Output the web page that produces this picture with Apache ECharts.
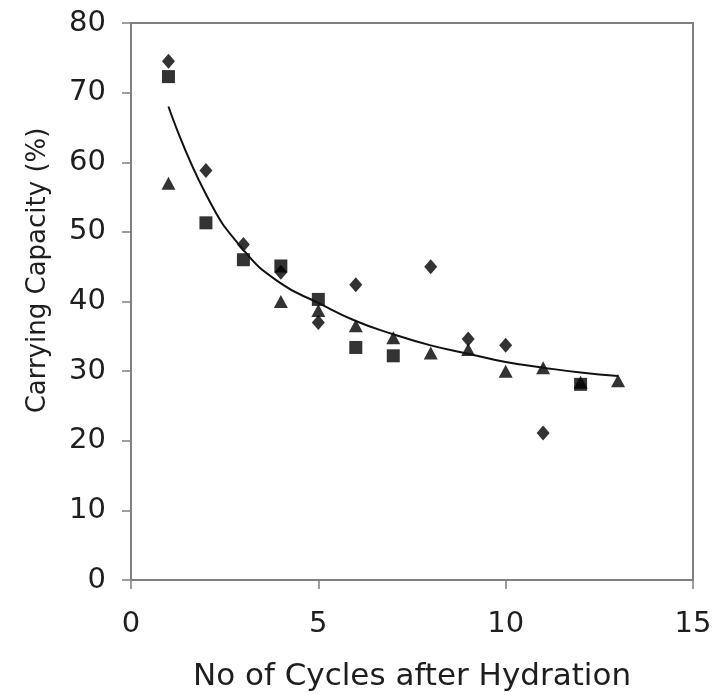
<!DOCTYPE html>
<html>
<head>
<meta charset="utf-8">
<script src="https://cdn.jsdelivr.net/npm/echarts@6/dist/echarts.min.js"></script>
<style>html,body{margin:0;padding:0;background:#fff}#c{width:727px;height:697px}</style>
</head>
<body>
<div id="c"></div>
<script>
var cycles = [1, 2, 3, 4, 5, 6, 7, 8, 9, 10, 11, 12, 13];
var diamondVals = [74.5, 58.8, 48.2, 44.2, 37.0, 42.4, null, 45.0, 34.6, 33.7, 21.1, null, null];
var squareVals = [72.3, 51.3, 46.0, 45.1, 40.3, 33.4, 32.2, null, null, null, null, 28.1, null];
var triangleVals = [57.0, null, null, 40.0, 38.7, 36.5, 34.8, 32.6, 33.1, 30.0, 30.5, 28.4, 28.6];
var trendVals = [68.0, 55.4, 47.4, 42.6, 39.8, 37.2, 35.3, 33.7, 32.5, 31.3, 30.5, 29.8, 29.3];
var xTicks = [0, 5, 10, 15];
var yTicks = [0, 10, 20, 30, 40, 50, 60, 70, 80];

function pairs(vals) {
  var out = [];
  for (var i = 0; i < cycles.length; i++) {
    if (vals[i] !== null) out.push([cycles[i], vals[i]]);
  }
  return out;
}

var font = 'DejaVu Sans';
var axisColor = '#7f7f7f';
var textColor = '#1e1e1e';
var chart = echarts.init(document.getElementById('c'), null, {renderer: 'canvas'});
chart.setOption({
  animation: false,
  backgroundColor: '#ffffff',
  grid: {left: 131, right: 34, top: 23, bottom: 116, show: true, borderColor: axisColor, borderWidth: 2, backgroundColor: 'transparent'},
  xAxis: {
    type: 'value', min: xTicks[0], max: xTicks[xTicks.length - 1], interval: 5,
    name: 'No of Cycles after Hydration', nameLocation: 'middle', nameGap: 81,
    nameTextStyle: {fontFamily: font, fontSize: 31, color: textColor},
    axisLine: {show: true, lineStyle: {color: axisColor, width: 2}},
    axisTick: {show: true, inside: false, length: 9, lineStyle: {color: axisColor, width: 1.5}},
    axisLabel: {margin: 30, fontFamily: font, fontSize: 29, color: textColor},
    splitLine: {show: false}
  },
  yAxis: {
    type: 'value', min: yTicks[0], max: yTicks[yTicks.length - 1], interval: 10,
    name: 'Carrying Capacity (%)', nameLocation: 'middle', nameGap: 80, nameRotate: 90,
    nameTextStyle: {fontFamily: font, fontSize: 26, color: textColor, padding: [0, 0, 0, 62]},
    axisLine: {show: true, lineStyle: {color: axisColor, width: 2}},
    axisTick: {show: true, inside: false, length: 9, lineStyle: {color: axisColor, width: 1.5}},
    axisLabel: {margin: 25, fontFamily: font, fontSize: 29, color: textColor},
    splitLine: {show: false}
  },
  series: [
    {type: 'scatter', data: pairs(diamondVals), symbol: 'diamond', symbolSize: [13, 15],
     itemStyle: {color: '#000'}, z: 3},
    {type: 'scatter', data: pairs(squareVals), symbol: 'rect', symbolSize: [13, 13],
     itemStyle: {color: '#000'}, z: 3},
    {type: 'scatter', data: pairs(triangleVals), symbol: 'triangle', symbolSize: [14, 13],
     itemStyle: {color: '#000'}, z: 3},
    {type: 'line', data: pairs(trendVals), smooth: true, showSymbol: false, symbol: 'none',
     lineStyle: {color: '#111', width: 2}, z: 4}
  ]
});
</script>
</body>
</html>
